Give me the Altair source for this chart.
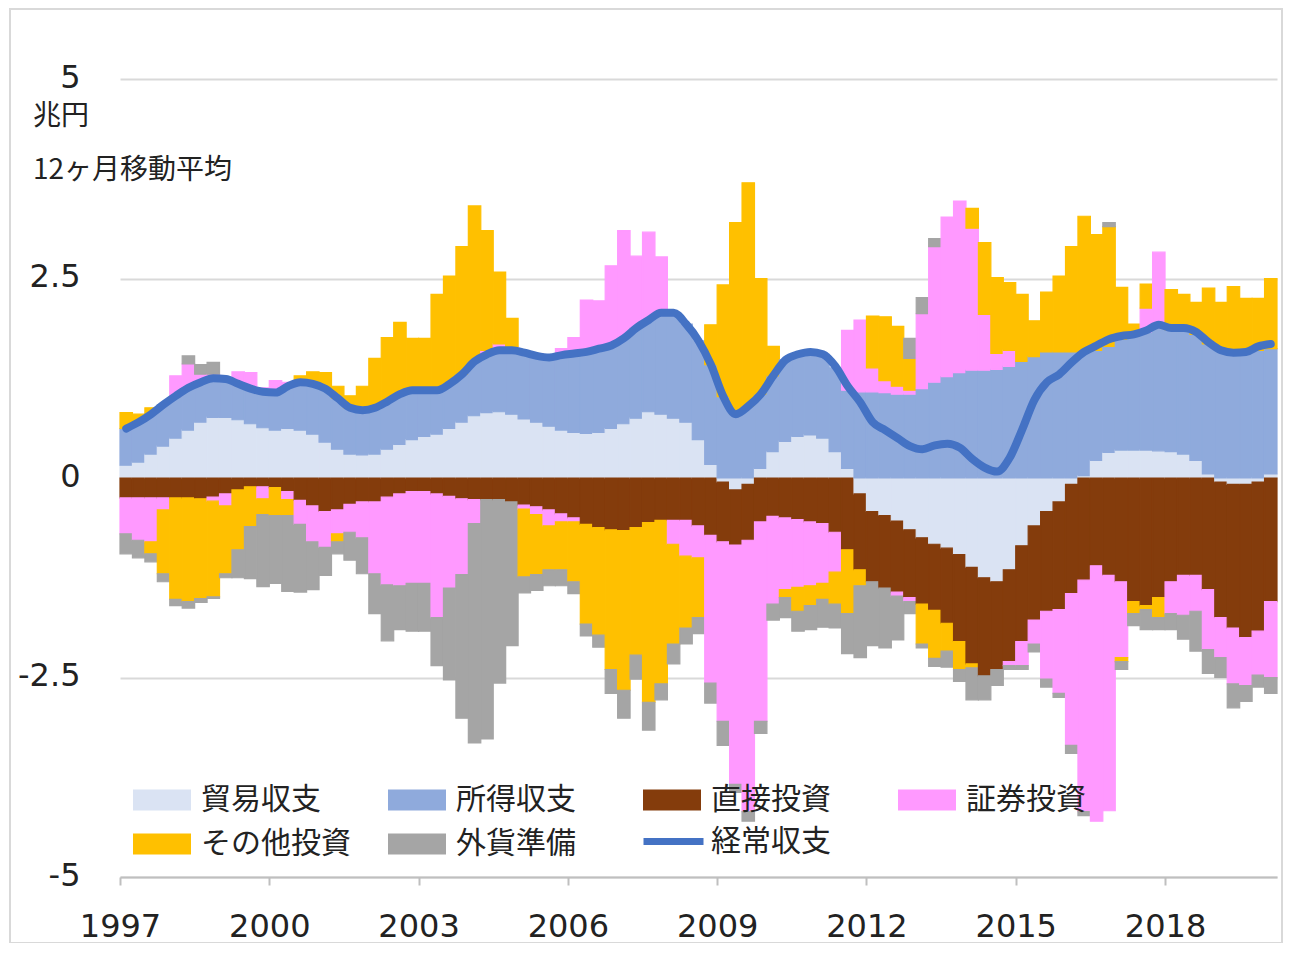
import altair as alt
import pandas as pd

# ---------------- data (quarterly, 12-month moving averages, trillion yen) ----------------
START_YEAR = 1997.0
STEP = 0.25

SERIES = ["貿易収支", "所得収支", "直接投資", "証券投資", "その他投資", "外貨準備"]
COLORS = ["#DAE3F3", "#8FAADC", "#843C0C", "#FF99FF", "#FFC000", "#A5A5A5"]
LINE_NAME = "経常収支"
LINE_COLOR = "#4472C4"

TRADE = [
    0.16, 0.2, 0.3, 0.4,
    0.5, 0.6, 0.7, 0.76,
    0.76, 0.73, 0.68, 0.63,
    0.6, 0.62, 0.6, 0.55,
    0.45, 0.36, 0.3, 0.29,
    0.3, 0.36, 0.42, 0.48,
    0.52, 0.55, 0.62, 0.7,
    0.78, 0.82, 0.83, 0.8,
    0.74, 0.7, 0.65, 0.6,
    0.57, 0.56, 0.57, 0.62,
    0.68, 0.75, 0.83, 0.8,
    0.75, 0.7, 0.48, 0.17,
    -0.05, -0.15, -0.08, 0.12,
    0.33, 0.46, 0.52, 0.54,
    0.5, 0.33, 0.12, -0.2,
    -0.42, -0.47, -0.54, -0.65,
    -0.75, -0.83, -0.88, -0.96,
    -1.12, -1.25, -1.3, -1.15,
    -0.85, -0.6, -0.42, -0.3,
    -0.08, 0.03, 0.22, 0.32,
    0.35, 0.35, 0.35, 0.34,
    0.33, 0.3, 0.22, 0.05,
    -0.05, -0.08, -0.08, -0.05,
    0.05,
]

INCOME = [
    0.46, 0.5, 0.5, 0.52,
    0.53, 0.53, 0.5, 0.49,
    0.48, 0.45, 0.44, 0.45,
    0.47, 0.53, 0.6, 0.63,
    0.67, 0.64, 0.58, 0.56,
    0.58, 0.6, 0.63, 0.62,
    0.58, 0.55, 0.56, 0.6,
    0.68, 0.73, 0.77, 0.8,
    0.83, 0.83, 0.86, 0.94,
    0.99, 1.02, 1.05, 1.04,
    1.07, 1.13, 1.15, 1.27,
    1.32, 1.23, 1.24, 1.25,
    1.02, 0.8, 0.9, 0.93,
    0.95, 1.02, 1.03, 1.04,
    1.05, 1.05, 0.98, 1.08,
    1.08, 1.07, 1.05, 1.05,
    1.12, 1.2, 1.27, 1.32,
    1.35, 1.35, 1.36, 1.4,
    1.46, 1.52, 1.58, 1.58,
    1.58, 1.55, 1.38, 1.33,
    1.39, 1.43, 1.48, 1.54,
    1.53, 1.55, 1.58, 1.63,
    1.6, 1.57, 1.57, 1.6,
    1.57,
]

DIRECT = [
    -0.25, -0.25, -0.25, -0.25,
    -0.25, -0.25, -0.26, -0.24,
    -0.2, -0.15, -0.11, -0.11,
    -0.12, -0.17, -0.28, -0.35,
    -0.42, -0.4, -0.33, -0.3,
    -0.3, -0.24, -0.2, -0.17,
    -0.17, -0.2, -0.23, -0.26,
    -0.27, -0.27, -0.27, -0.3,
    -0.34, -0.36, -0.4, -0.45,
    -0.5, -0.58, -0.62, -0.65,
    -0.66, -0.62, -0.56, -0.53,
    -0.53, -0.53, -0.6, -0.72,
    -0.75, -0.69, -0.7, -0.55,
    -0.48, -0.5, -0.52, -0.55,
    -0.57, -0.68, -0.9, -0.95,
    -0.88, -0.91, -0.89, -0.85,
    -0.83, -0.83, -0.94, -1.09,
    -1.21, -1.23, -1.1, -1.15,
    -1.2, -1.18, -1.25, -1.35,
    -1.37, -1.28, -1.1, -1.22,
    -1.3, -1.55, -1.6, -1.5,
    -1.3, -1.22, -1.22, -1.4,
    -1.7, -1.8, -1.92, -1.87,
    -1.55,
]

PORTFOLIO_POS = [
    0, 0, 0, 0,
    0.25, 0.3, 0.1, 0.05,
    0, 0.15, 0.2, 0.05,
    0.15, 0.05, 0, 0,
    0, 0, 0, 0,
    0, 0, 0, 0,
    0, 0, 0, 0,
    0, 0.05, 0.08, 0.05,
    0, 0.03, 0, 0.08,
    0.2, 0.65, 0.6, 1.0,
    1.35, 0.9, 1.1, 0.7,
    0, 0, 0, 0,
    0, 0, 0, 0,
    0, 0, 0, 0,
    0, 0, 0.75, 0.9,
    0.3, 0.15, 0.1, 0.05,
    0.94, 1.7, 2.0, 2.15,
    1.78, 0.7, 0.2, 0.2,
    0, 0, 0, 0,
    0, 0, 0, 0,
    0, 0, 0.3, 0.95,
    0, 0, 0, 0,
    0, 0, 0, 0,
    0,
]

PORTFOLIO_NEG = [
    -0.45, -0.53, -0.55, -0.15,
    0, 0, 0, -0.05,
    -0.15, 0, 0, -0.15,
    0, -0.1, -0.3, -0.45,
    -0.45, -0.3, -0.35, -0.45,
    -0.9, -1.1, -1.15, -1.15,
    -1.15, -1.55, -1.15, -0.95,
    -0.3, 0, 0, 0,
    -0.05, -0.1, -0.2, -0.1,
    -0.05, 0, 0, 0,
    0, 0, 0, 0,
    -0.3, -0.45, -0.4, -1.85,
    -2.25, -3.0, -3.4, -2.5,
    -1.1, -0.9, -0.85, -0.8,
    -0.75, -0.5, 0, 0,
    0, 0, -0.05, -0.05,
    0, 0, 0, 0,
    0, 0, 0, -0.05,
    -0.3, -0.3, -0.85, -1.05,
    -1.9, -2.9, -3.2, -2.95,
    -0.95, 0, 0, 0,
    -0.4, -0.5, -0.45, -0.75,
    -0.5, -0.7, -0.6, -0.55,
    -0.95,
]

OTHER_POS = [
    0.2, 0.1, 0.08, 0,
    0, 0, 0, 0,
    0, 0, 0, 0,
    0, 0, 0.08, 0.15,
    0.2, 0.15, 0.15, 0.3,
    0.62, 0.8, 0.9, 0.65,
    0.65, 1.2, 1.35, 1.6,
    1.95, 1.5, 0.9, 0.35,
    0, 0, 0, 0,
    0, 0, 0, 0,
    0, 0, 0, 0,
    0, 0, 0, 0.5,
    1.4, 2.4, 2.8, 1.45,
    0.37, 0, 0, 0,
    0, 0, 0, 0,
    0.65, 0.8, 0.75, 0.4,
    0, 0, 0, 0,
    0.25, 0.9, 0.95, 0.85,
    0.84, 0.45, 0.75, 0.95,
    1.32, 1.7, 1.45, 1.5,
    0.65, 0.15, 0.3, 0,
    0.5, 0.45, 0.4, 0.7,
    0.6, 0.83, 0.68, 0.65,
    0.88,
]

OTHER_NEG = [
    0, 0, -0.15, -0.8,
    -1.27, -1.3, -1.25, -1.2,
    -0.85, -0.75, -0.5, -0.2,
    -0.35, -0.2, 0, 0,
    0, -0.1, 0, 0,
    0, 0, 0, 0,
    0, 0, 0, 0,
    0, 0, 0, 0,
    -0.85, -0.75, -0.55, -0.6,
    -0.75, -1.25, -1.35, -1.75,
    -2.0, -1.6, -2.25, -2.05,
    -1.25, -0.9, -0.75, 0,
    0, 0, 0, 0,
    0, -0.1, -0.3, -0.25,
    -0.2, -0.4, -0.8, -0.2,
    0, 0, 0, 0,
    -0.5, -0.6, -0.35, -0.35,
    -0.05, 0, 0, 0,
    0, 0, 0, 0,
    0, 0, 0, 0,
    -0.05, -0.15, -0.05, -0.25,
    0, 0, 0, 0,
    0, 0, 0, 0,
    0,
]

RESERVES_POS = [
    0, 0, 0, 0,
    0, 0.1, 0.12, 0.15,
    0, 0, 0, 0,
    0, 0, 0, 0,
    0, 0, 0, 0,
    0, 0, 0, 0,
    0, 0, 0, 0,
    0, 0, 0, 0,
    0, 0, 0, 0,
    0, 0, 0, 0,
    0, 0, 0, 0,
    0, 0, 0, 0,
    0, 0, 0, 0,
    0, 0, 0, 0,
    0, 0, 0, 0,
    0, 0, 0, 0.25,
    0.2, 0.1, 0, 0,
    0, 0, 0, 0,
    0, 0, 0, 0,
    0, 0, 0, 0.05,
    0, 0, 0, 0,
    0, 0, 0, 0,
    0, 0, 0, 0,
    0,
]

RESERVES_NEG = [
    -0.25, -0.22, -0.1, -0.1,
    -0.08, -0.08, -0.05, -0.02,
    -0.05, -0.35, -0.65, -0.9,
    -0.85, -0.95, -0.85, -0.6,
    -0.35, -0.15, -0.35, -0.45,
    -0.5, -0.7, -0.55, -0.6,
    -0.6, -0.6, -1.15, -1.8,
    -2.75, -3.0, -2.3, -1.8,
    -0.2, -0.2, -0.2, -0.2,
    -0.15, -0.15, -0.15, -0.3,
    -0.35, -0.3, -0.35, -0.2,
    -0.25, -0.2, -0.2, -0.25,
    -0.3, -0.1, -0.12, -0.15,
    -0.2, -0.25, -0.25, -0.3,
    -0.35, -0.3, -0.5, -0.9,
    -0.8, -0.75, -0.55, -0.15,
    -0.05, -0.1, -0.2, -0.15,
    -0.4, -0.3, -0.2, -0.05,
    -0.05, -0.1, -0.1, -0.05,
    -0.1, -0.05, 0, 0,
    -0.1, -0.15, -0.25, -0.15,
    -0.2, -0.3, -0.5, -0.3,
    -0.25, -0.3, -0.2, -0.15,
    -0.2,
]

CURRENT = [
    0.62, 0.7, 0.8, 0.92,
    1.03, 1.13, 1.2, 1.25,
    1.24, 1.18, 1.12, 1.08,
    1.07, 1.15, 1.2, 1.18,
    1.12, 1.0, 0.88, 0.85,
    0.88, 0.96, 1.05, 1.1,
    1.1, 1.1, 1.18, 1.3,
    1.46, 1.55, 1.6, 1.6,
    1.57, 1.53, 1.51, 1.54,
    1.56, 1.58, 1.62, 1.66,
    1.75, 1.88, 1.98, 2.07,
    2.07, 1.93, 1.72, 1.42,
    1.02, 0.8, 0.9, 1.05,
    1.28, 1.48, 1.55, 1.58,
    1.55, 1.4, 1.15, 0.95,
    0.7, 0.6, 0.5, 0.4,
    0.36, 0.41, 0.43, 0.38,
    0.24, 0.13, 0.08, 0.25,
    0.6, 0.98, 1.2, 1.3,
    1.45, 1.58, 1.66, 1.74,
    1.78, 1.8, 1.85, 1.92,
    1.88, 1.88, 1.83, 1.7,
    1.6, 1.57, 1.58, 1.65,
    1.68,
]

X_TICKS = [1997, 2000, 2003, 2006, 2009, 2012, 2015, 2018]
Y_TICKS = [-5, -2.5, 0, 2.5, 5]

# ---------------- tables ----------------
N = len(CURRENT)
components = [
    (0, TRADE), (1, INCOME), (2, DIRECT),
    (3, PORTFOLIO_POS), (3, PORTFOLIO_NEG),
    (4, OTHER_POS), (4, OTHER_NEG),
    (5, RESERVES_POS), (5, RESERVES_NEG),
]
rows = []
for q in range(N):
    t0 = START_YEAR + q * STEP
    for idx, values in components:
        v = values[q]
        if v != 0:
            rows.append({"t0": t0, "t1": t0 + STEP, "s": SERIES[idx], "o": idx, "v": v})
bars_df = pd.DataFrame(rows)

line_df = pd.DataFrame({
    "tc": [START_YEAR + q * STEP + STEP / 2 for q in range(N)],
    "ca": CURRENT,
    "n": [LINE_NAME] * N,
})

NUM_FONT = "DejaVu Sans"
JP_FONT = "Noto Sans CJK JP"
TEXT_COLOR = "#222222"
GRID_COLOR = "#D9D9D9"

x_scale = alt.Scale(domain=[1997, 2020.25], nice=False, zero=False)
y_scale = alt.Scale(domain=[-5, 5], nice=False, zero=False)

bars = alt.Chart(bars_df).transform_stack(
    stack="v", as_=["y0", "y1"], groupby=["t0"],
    sort=[alt.SortField("o", order="ascending")], offset="zero",
).mark_bar(strokeWidth=1.2).encode(
    x=alt.X("t0:Q", scale=x_scale,
            axis=alt.Axis(values=X_TICKS, format="d", title=None, grid=False,
                          domainColor="#BFBFBF", domainWidth=2,
                          tickColor="#BFBFBF", tickWidth=2, tickSize=8,
                          labelFont=NUM_FONT, labelFontSize=32, labelColor=TEXT_COLOR,
                          labelPadding=26, labelFlush=False)),
    x2="t1:Q",
    y=alt.Y("y0:Q", scale=y_scale,
            axis=alt.Axis(values=Y_TICKS, labelExpr="'' + datum.value", title=None,
                          domain=False, ticks=False, tickSize=0, grid=True,
                          gridColor=GRID_COLOR, gridWidth=2,
                          labelFont=NUM_FONT, labelFontSize=32, labelColor=TEXT_COLOR,
                          labelPadding=40, labelOffset=-2)),
    y2="y1:Q",
    color=alt.Color("s:N", scale=alt.Scale(domain=SERIES, range=COLORS),
                    legend=alt.Legend(title=None, orient="none", legendX=13, legendY=692,
                                      direction="horizontal", columns=4, gridAlign="all",
                                      columnPadding=37, rowPadding=-2, padding=0,
                                      symbolType="M-1,-0.36H1V0.36H-1Z", symbolSize=3364,
                                      symbolStrokeWidth=0, symbolOpacity=1,
                                      labelFont=JP_FONT, labelFontSize=30,
                                      labelColor=TEXT_COLOR, labelOffset=10, labelLimit=400)),
    stroke=alt.Stroke("s:N", scale=alt.Scale(domain=SERIES, range=COLORS), legend=None),
)

line = alt.Chart(line_df).mark_line(strokeWidth=8, strokeCap="round", strokeJoin="round",
                                    interpolate="monotone").encode(
    x=alt.X("tc:Q", scale=x_scale),
    y=alt.Y("ca:Q", scale=y_scale),
    stroke=alt.Stroke("n:N", scale=alt.Scale(domain=[LINE_NAME], range=[LINE_COLOR]),
                      legend=alt.Legend(title=None, orient="none", legendX=520, legendY=729,
                                        padding=0, symbolType="stroke", symbolSize=3600,
                                        symbolStrokeWidth=7, symbolStrokeColor=LINE_COLOR,
                                        labelFont=JP_FONT, labelFontSize=30,
                                        labelColor=TEXT_COLOR, labelOffset=4, labelLimit=400)),
)

unit_text = alt.Chart(pd.DataFrame({"t": ["兆円"]})).mark_text(
    align="left", baseline="middle", font=JP_FONT, fontSize=28, color=TEXT_COLOR
).encode(text="t:N", x=alt.value(-87), y=alt.value(38))

note_text = alt.Chart(pd.DataFrame({"t": ["12ヶ月移動平均"]})).mark_text(
    align="left", baseline="middle", font=JP_FONT, fontSize=28, color=TEXT_COLOR
).encode(text="t:N", x=alt.value(-87), y=alt.value(92))

frame = alt.Chart(pd.DataFrame({"f": [0]})).mark_rect(
    fill="transparent", stroke="#D9D9D9", strokeWidth=2
).encode(x=alt.value(-110), x2=alt.value(1162), y=alt.value(-70), y2=alt.value(864))

chart = alt.layer(frame, bars, line, unit_text, note_text).resolve_scale(
    stroke="independent"
).properties(
    width=1157,
    height=798,
    padding={"left": 112, "top": 71, "right": 6, "bottom": 66},
    autosize=alt.AutoSizeParams(type="none"),
    background="white",
).configure_view(stroke=None)

chart.save("out.html", embed_options={"renderer": "svg", "actions": False})
